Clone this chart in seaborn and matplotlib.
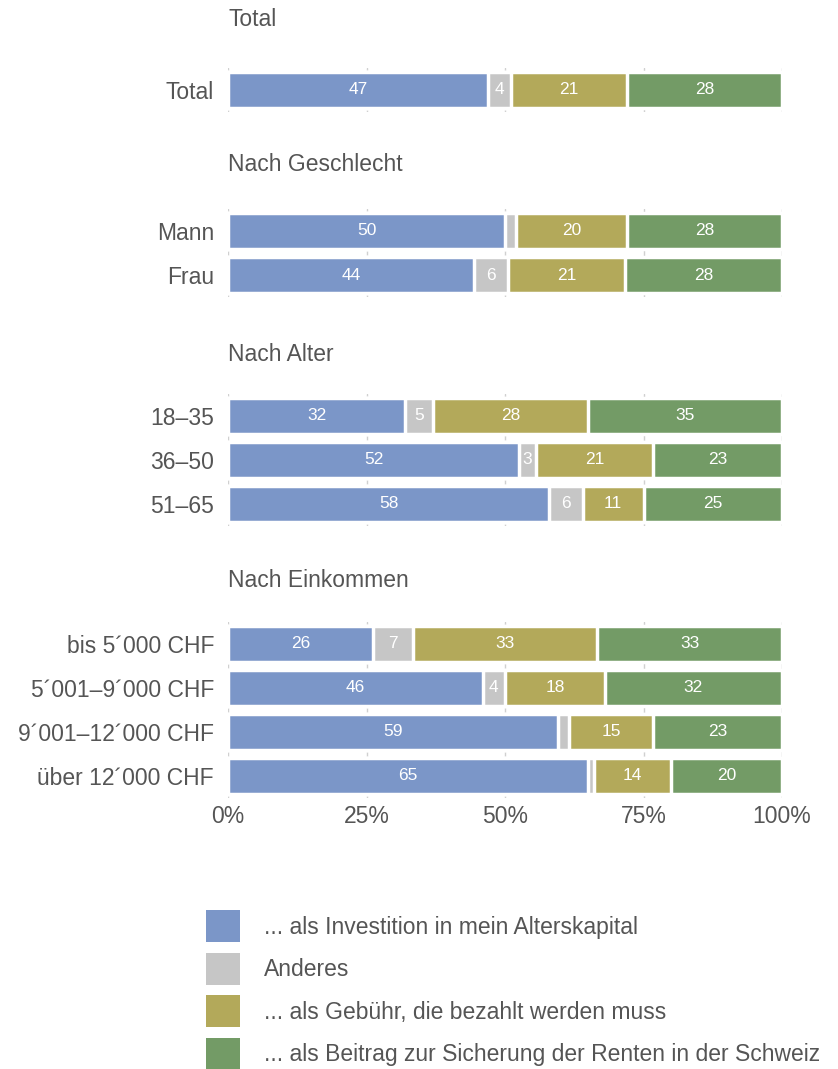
import matplotlib
matplotlib.use("Agg")
import matplotlib.pyplot as plt
from matplotlib.patches import Patch
import numpy as np
import seaborn as sns

sns.set_theme(style="white")
plt.rcParams["font.family"] = ["Liberation Sans", "DejaVu Sans"]

TEXT = "#555555"

GROUPS = ["Total", "Nach Geschlecht", "Nach Alter", "Nach Einkommen"]
ROWS = [
    ["Total"],
    ["Mann", "Frau"],
    ["18–35", "36–50", "51–65"],
    ["bis 5´000 CHF", "5´001–9´000 CHF", "9´001–12´000 CHF", "über 12´000 CHF"],
]

# answers per row (percent), same order as ROWS flattened
INVEST = [47, 50, 44, 32, 52, 58, 26, 46, 59, 65]
ANDERES = [4, 2, 6, 5, 3, 6, 7, 4, 2, 1]
GEBUEHR = [21, 20, 21, 28, 21, 11, 33, 18, 15, 14]
BEITRAG = [28, 28, 28, 35, 23, 25, 33, 32, 23, 20]

SERIES = [
    "... als Investition in mein Alterskapital",
    "Anderes",
    "... als Gebühr, die bezahlt werden muss",
    "... als Beitrag zur Sicherung der Renten in der Schweiz",
]
COLORS = ["#7B96C8", "#C6C6C6", "#B3A95A", "#739B66"]

X_TICKS = [0, 25, 50, 75, 100]
X_TICKLABELS = ["0%", "25%", "50%", "75%", "100%"]

W, H = 838, 1069
ROW_PX = 44
PANEL_TOP = [68, 209, 394, 622]       # pixel top of each panel
TITLE_PAD = [30, 27, 24, 25]          # points above panel
FS = 16.5

fig = plt.figure(figsize=(W / 100, H / 100), dpi=100)

vals = np.array([INVEST, ANDERES, GEBUEHR, BEITRAG], dtype=float)
vals_pct = vals / vals.sum(axis=0) * 100
cum = np.cumsum(vals_pct, axis=0)

start = 0
for gi, (group, labels) in enumerate(zip(GROUPS, ROWS)):
    n = len(labels)
    idx = slice(start, start + n)
    top = PANEL_TOP[gi]
    ax = fig.add_axes([228 / W, 1 - (top + n * ROW_PX) / H, 554 / W, n * ROW_PX / H])

    # stacked bars drawn as overlapping cumulative bars, widest first
    for k in range(3, -1, -1):
        sns.barplot(x=cum[k, idx], y=labels, orient="h", color=COLORS[k],
                    saturation=1, width=0.8, edgecolor="white", linewidth=2.5, ax=ax)

    for k in range(4):
        for r in range(n):
            v = vals[k, start + r]
            if v >= 3:
                xc = cum[k, start + r] - vals_pct[k, start + r] / 2
                ax.text(xc, r, f"{v:.0f}", ha="center", va="center",
                        color="white", fontsize=12.5)
    start += n

    ax.set_xlim(0, 100)
    ax.set_ylim(n - 0.5, -0.5)
    ax.set_xticks(X_TICKS)
    ax.grid(axis="x", color="#D0D0D0", linewidth=1)
    ax.set_axisbelow(True)
    sns.despine(ax=ax, left=True, bottom=True)
    ax.set_xlabel("")
    ax.set_ylabel("")
    ax.tick_params(axis="y", length=0, pad=10, labelsize=FS, labelcolor=TEXT)
    ax.tick_params(axis="x", length=0, pad=5, labelsize=FS, labelcolor=TEXT)
    if gi == len(GROUPS) - 1:
        ax.set_xticklabels(X_TICKLABELS)
    else:
        ax.set_xticklabels([])
    ax.set_title(group, loc="left", fontsize=FS, color=TEXT, pad=TITLE_PAD[gi])

handles = [Patch(facecolor=c, edgecolor="none") for c in COLORS]
fig.legend(handles, SERIES, loc="upper left", bbox_to_anchor=(206 / W, 1 - 910 / H),
           frameon=False, fontsize=FS, labelcolor=TEXT, handlelength=1.5,
           handleheight=1.8, labelspacing=0.44, handletextpad=1.05, borderpad=0,
           borderaxespad=0)

fig.savefig("out.png", dpi=100, facecolor="white")
